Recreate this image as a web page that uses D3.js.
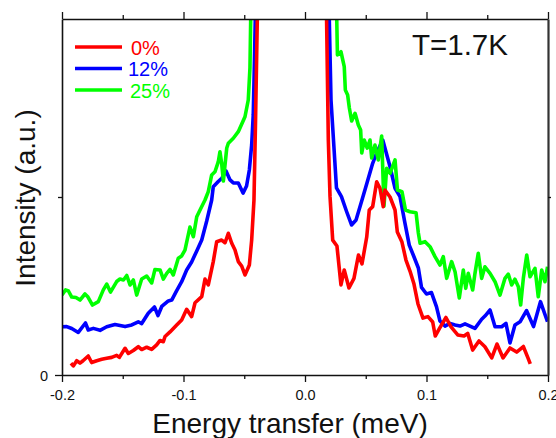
<!DOCTYPE html>
<html>
<head>
<meta charset="utf-8">
<script src="https://cdn.jsdelivr.net/npm/d3@7/dist/d3.min.js"></script>
<style>
  html, body { margin: 0; padding: 0; background: #fff; }
  svg { display: block; }
  text { font-family: "Liberation Sans", Arial, sans-serif; }
</style>
</head>
<body>
<svg id="chart" width="556" height="438"></svg>
<script>
// Energy transfer (meV) and intensity (a.u.) for each doping level, T = 1.7 K.
// Values above the top of the frame belong to the elastic peak and are clipped.
const energy0 = [-0.1926,-0.1907,-0.1879,-0.1852,-0.1827,-0.1784,-0.1756,-0.1714,-0.1673,-0.1632,-0.1591,-0.1550,-0.1528,-0.1481,-0.1454,-0.1413,-0.1372,-0.1344,-0.1303,-0.1262,-0.1221,-0.1193,-0.1166,-0.1152,-0.1111,-0.1056,-0.1015,-0.0974,-0.0933,-0.0905,-0.0850,-0.0823,-0.0796,-0.0755,-0.0727,-0.0686,-0.0658,-0.0631,-0.0603,-0.0576,-0.0549,-0.0521,-0.0494,-0.0458,-0.0439,-0.0420,-0.0407,-0.0387,
  0.0173,0.0192,0.0206,0.0228,0.0263,0.0296,0.0323,0.0362,0.0403,0.0440,0.0469,0.0508,0.0529,0.0557,0.0590,0.0617,0.0644,0.0658,0.0700,0.0741,0.0760,0.0798,0.0831,0.0864,0.0897,0.0930,0.0971,0.1012,0.1051,0.1072,0.1107,0.1160,0.1202,0.1257,0.1309,0.1339,0.1380,0.1432,0.1481,0.1537,0.1580,0.1630,0.1687,0.1742,0.1797,0.1835,0.1854];
const intensity0 = [0.066,0.051,0.080,0.067,0.080,0.107,0.070,0.080,0.088,0.094,0.099,0.110,0.099,0.150,0.121,0.138,0.159,0.143,0.156,0.144,0.169,0.194,0.187,0.216,0.242,0.281,0.309,0.369,0.328,0.406,0.440,0.539,0.506,0.637,0.749,0.758,0.743,0.796,0.740,0.702,0.637,0.612,0.562,0.618,0.758,0.983,1.433,2.22,
  2.22,1.320,1.002,0.758,0.725,0.506,0.590,0.489,0.543,0.674,0.624,0.775,0.927,0.946,1.086,1.049,0.946,1.039,1.000,0.927,0.803,0.747,0.646,0.584,0.511,0.399,0.320,0.328,0.298,0.219,0.262,0.323,0.270,0.225,0.219,0.234,0.140,0.191,0.159,0.096,0.174,0.096,0.152,0.129,0.160,0.096,0.062];

const energy12 = [-0.2000,-0.1961,-0.1920,-0.1866,-0.1807,-0.1784,-0.1742,-0.1687,-0.1632,-0.1564,-0.1481,-0.1426,-0.1372,-0.1344,-0.1290,-0.1239,-0.1210,-0.1179,-0.1125,-0.1097,-0.1056,-0.1015,-0.0974,-0.0933,-0.0891,-0.0850,-0.0809,-0.0768,-0.0755,-0.0714,-0.0683,-0.0650,-0.0617,-0.0590,-0.0549,-0.0510,-0.0481,-0.0458,-0.0439,-0.0426,-0.0416,-0.0403,
  0.0193,0.0214,0.0259,0.0300,0.0343,0.0383,0.0420,0.0469,0.0510,0.0557,0.0593,0.0640,0.0700,0.0741,0.0782,0.0823,0.0858,0.0891,0.0933,0.0959,0.1000,0.1041,0.1082,0.1111,0.1152,0.1193,0.1235,0.1276,0.1317,0.1358,0.1399,0.1454,0.1481,0.1523,0.1564,0.1619,0.1654,0.1687,0.1728,0.1770,0.1823,0.1881,0.1938,0.1996];
const intensity12 = [0.271,0.272,0.261,0.239,0.292,0.253,0.262,0.251,0.271,0.284,0.272,0.281,0.299,0.289,0.347,0.382,0.334,0.385,0.416,0.421,0.474,0.524,0.590,0.635,0.697,0.758,0.865,0.983,1.058,1.087,1.107,1.146,1.096,1.079,1.079,1.022,1.062,1.152,1.292,1.461,1.770,2.22,
  2.22,1.545,1.051,1.002,0.917,0.843,0.871,0.983,1.079,1.189,1.253,1.320,1.170,1.049,1.002,0.852,0.730,0.674,0.601,0.492,0.455,0.463,0.384,0.303,0.275,0.290,0.281,0.275,0.287,0.275,0.262,0.313,0.331,0.365,0.271,0.271,0.290,0.180,0.281,0.299,0.362,0.272,0.412,0.299];

const energy25 = [-0.2000,-0.1971,-0.1947,-0.1920,-0.1885,-0.1852,-0.1811,-0.1786,-0.1749,-0.1701,-0.1660,-0.1632,-0.1601,-0.1550,-0.1523,-0.1494,-0.1467,-0.1440,-0.1413,-0.1385,-0.1344,-0.1303,-0.1262,-0.1235,-0.1193,-0.1166,-0.1138,-0.1111,-0.1084,-0.1043,-0.1015,-0.0988,-0.0947,-0.0919,-0.0891,-0.0864,-0.0823,-0.0796,-0.0768,-0.0741,-0.0714,-0.0700,-0.0686,-0.0672,-0.0644,-0.0631,-0.0590,-0.0549,-0.0494,-0.0467,-0.0453,-0.0447,-0.0440,
  0.0255,0.0267,0.0296,0.0323,0.0332,0.0351,0.0365,0.0384,0.0412,0.0439,0.0458,0.0467,0.0488,0.0512,0.0535,0.0549,0.0576,0.0603,0.0631,0.0650,0.0672,0.0700,0.0741,0.0761,0.0798,0.0827,0.0864,0.0914,0.0933,0.0947,0.0988,0.1029,0.1070,0.1111,0.1138,0.1166,0.1207,0.1235,0.1270,0.1303,0.1323,0.1344,0.1380,0.1399,0.1426,0.1454,0.1481,0.1523,0.1564,0.1605,0.1646,0.1673,0.1701,0.1728,0.1756,0.1775,0.1797,0.1825,0.1852,0.1893,0.1920,0.1948,0.1975,0.1996];
const intensity25 = [0.449,0.478,0.472,0.438,0.435,0.421,0.455,0.438,0.393,0.412,0.478,0.511,0.466,0.525,0.539,0.534,0.559,0.506,0.534,0.449,0.539,0.556,0.517,0.593,0.590,0.539,0.571,0.593,0.562,0.656,0.669,0.702,0.831,0.777,0.889,0.927,0.983,1.030,1.124,1.142,1.197,1.254,1.189,1.090,1.275,1.302,1.330,1.367,1.451,1.545,1.725,1.994,2.22,
  2.22,1.798,1.816,1.732,1.601,1.573,1.500,1.427,1.470,1.404,1.376,1.247,1.320,1.275,1.320,1.219,1.292,1.208,1.343,0.949,1.161,1.133,1.208,1.039,1.030,0.927,0.917,0.912,0.798,0.740,0.749,0.721,0.665,0.618,0.665,0.543,0.637,0.580,0.433,0.590,0.487,0.571,0.478,0.571,0.684,0.543,0.608,0.571,0.524,0.449,0.543,0.567,0.506,0.538,0.496,0.393,0.543,0.674,0.552,0.599,0.440,0.590,0.524,0.608];

const seriesNames = ["0%", "12%", "25%"];
const seriesColors = ["#ff0000", "#0000ff", "#00ff00"];
const xTickValues = [-0.2, -0.1, 0.0, 0.1, 0.2];
const xTickLabels = ["-0.2", "-0.1", "0.0", "0.1", "0.2"];
const xMinorTicks = [-0.15, -0.05, 0.05, 0.15];
const yTickValues = [0];
const yTickLabels = ["0"];
const yMinorTicks = [1];

const series = [
  { name: seriesNames[0], color: seriesColors[0], pts: energy0.map((e, i) => [e, intensity0[i]]) },
  { name: seriesNames[1], color: seriesColors[1], pts: energy12.map((e, i) => [e, intensity12[i]]) },
  { name: seriesNames[2], color: seriesColors[2], pts: energy25.map((e, i) => [e, intensity25[i]]) }
];

const svg = d3.select("#chart");
const frame = { left: 62, right: 548, top: 19, bottom: 375 };

const x = d3.scaleLinear().domain([-0.2, 0.2]).range([frame.left, frame.right]);
const y = d3.scaleLinear().domain([0, 2]).range([frame.bottom, frame.top]);

svg.append("defs").append("clipPath").attr("id", "plot-clip")
  .append("rect")
  .attr("x", frame.left).attr("y", frame.top)
  .attr("width", frame.right - frame.left).attr("height", frame.bottom - frame.top);

// Curves: blue first, then green, red on top
const line = d3.line().x(d => x(d[0])).y(d => y(d[1]));
const drawOrder = [1, 2, 0];
svg.append("g").attr("clip-path", "url(#plot-clip)")
  .selectAll("path").data(drawOrder.map(i => series[i])).join("path")
  .attr("d", d => line(d.pts))
  .attr("fill", "none")
  .attr("stroke", d => d.color)
  .attr("stroke-width", 3.6)
  .attr("stroke-linejoin", "round")
  .attr("stroke-linecap", "butt");

// Axes
const axisColor = "#111";
const bottomAxis = svg.append("g").attr("transform", `translate(0,${frame.bottom})`)
  .call(d3.axisBottom(x).tickValues(xTickValues).tickFormat((d, i) => xTickLabels[i]).tickSize(7).tickSizeOuter(0));
svg.append("g").attr("transform", `translate(0,${frame.bottom})`)
  .call(d3.axisBottom(x).tickValues(xMinorTicks).tickFormat("").tickSize(4).tickSizeOuter(0))
  .call(g => g.select(".domain").remove());

svg.append("g").attr("transform", `translate(0,${frame.top})`)
  .call(d3.axisTop(x).tickValues(xTickValues).tickFormat("").tickSize(7).tickSizeOuter(0));
svg.append("g").attr("transform", `translate(0,${frame.top})`)
  .call(d3.axisTop(x).tickValues(xMinorTicks).tickFormat("").tickSize(4).tickSizeOuter(0))
  .call(g => g.select(".domain").remove());

const leftAxis = svg.append("g").attr("transform", `translate(${frame.left},0)`)
  .call(d3.axisLeft(y).tickValues(yTickValues).tickFormat((d, i) => yTickLabels[i]).tickSize(7).tickSizeOuter(0));
svg.append("g").attr("transform", `translate(${frame.left},0)`)
  .call(d3.axisLeft(y).tickValues(yMinorTicks).tickFormat("").tickSize(4).tickSizeOuter(0))
  .call(g => g.select(".domain").remove());

const rightAxis = svg.append("g").attr("transform", `translate(${frame.right},0)`)
  .call(d3.axisRight(y).tickValues(yMinorTicks).tickFormat("").tickSize(3).tickSizeOuter(0));

svg.selectAll(".domain").attr("stroke", axisColor).attr("stroke-width", 1.6);
svg.selectAll(".tick line").attr("stroke", axisColor).attr("stroke-width", 1.3);
rightAxis.select(".domain").attr("stroke", "#333").attr("stroke-width", 2.2);

bottomAxis.selectAll(".tick text")
  .attr("font-size", 14.5).attr("fill", "#111").attr("dy", null).attr("y", 25)
  .attr("font-family", "'Liberation Sans', Arial, sans-serif");
leftAxis.selectAll(".tick text")
  .attr("font-size", 14.5).attr("fill", "#111").attr("x", -14).attr("dy", "0.36em")
  .attr("font-family", "'Liberation Sans', Arial, sans-serif");

// Axis titles
svg.append("text")
  .attr("x", 290).attr("y", 433)
  .attr("text-anchor", "middle")
  .attr("font-size", 28).attr("fill", "#111")
  .text("Energy transfer (meV)");

svg.append("text")
  .attr("transform", `translate(35,${(frame.top + frame.bottom) / 2 + 1}) rotate(-90)`)
  .attr("text-anchor", "middle")
  .attr("font-size", 28).attr("fill", "#111")
  .text("Intensity (a.u.)");

// Temperature annotation
svg.append("text")
  .attr("x", 412).attr("y", 55)
  .attr("font-size", 29.5).attr("fill", "#111")
  .text("T=1.7K");

// Legend
const legend = svg.append("g");
const legendRows = legend.selectAll("g").data(series).join("g")
  .attr("transform", (d, i) => `translate(0,${47 + i * 21.5})`);
legendRows.append("line")
  .attr("x1", 75).attr("x2", 122).attr("y1", 0).attr("y2", 0)
  .attr("stroke", d => d.color).attr("stroke-width", 3.6);
legendRows.append("text")
  .attr("x", (d, i) => [131, 128, 130][i]).attr("y", 7.5)
  .attr("font-size", 20).attr("fill", d => d.color)
  .text(d => d.name);
</script>
</body>
</html>
